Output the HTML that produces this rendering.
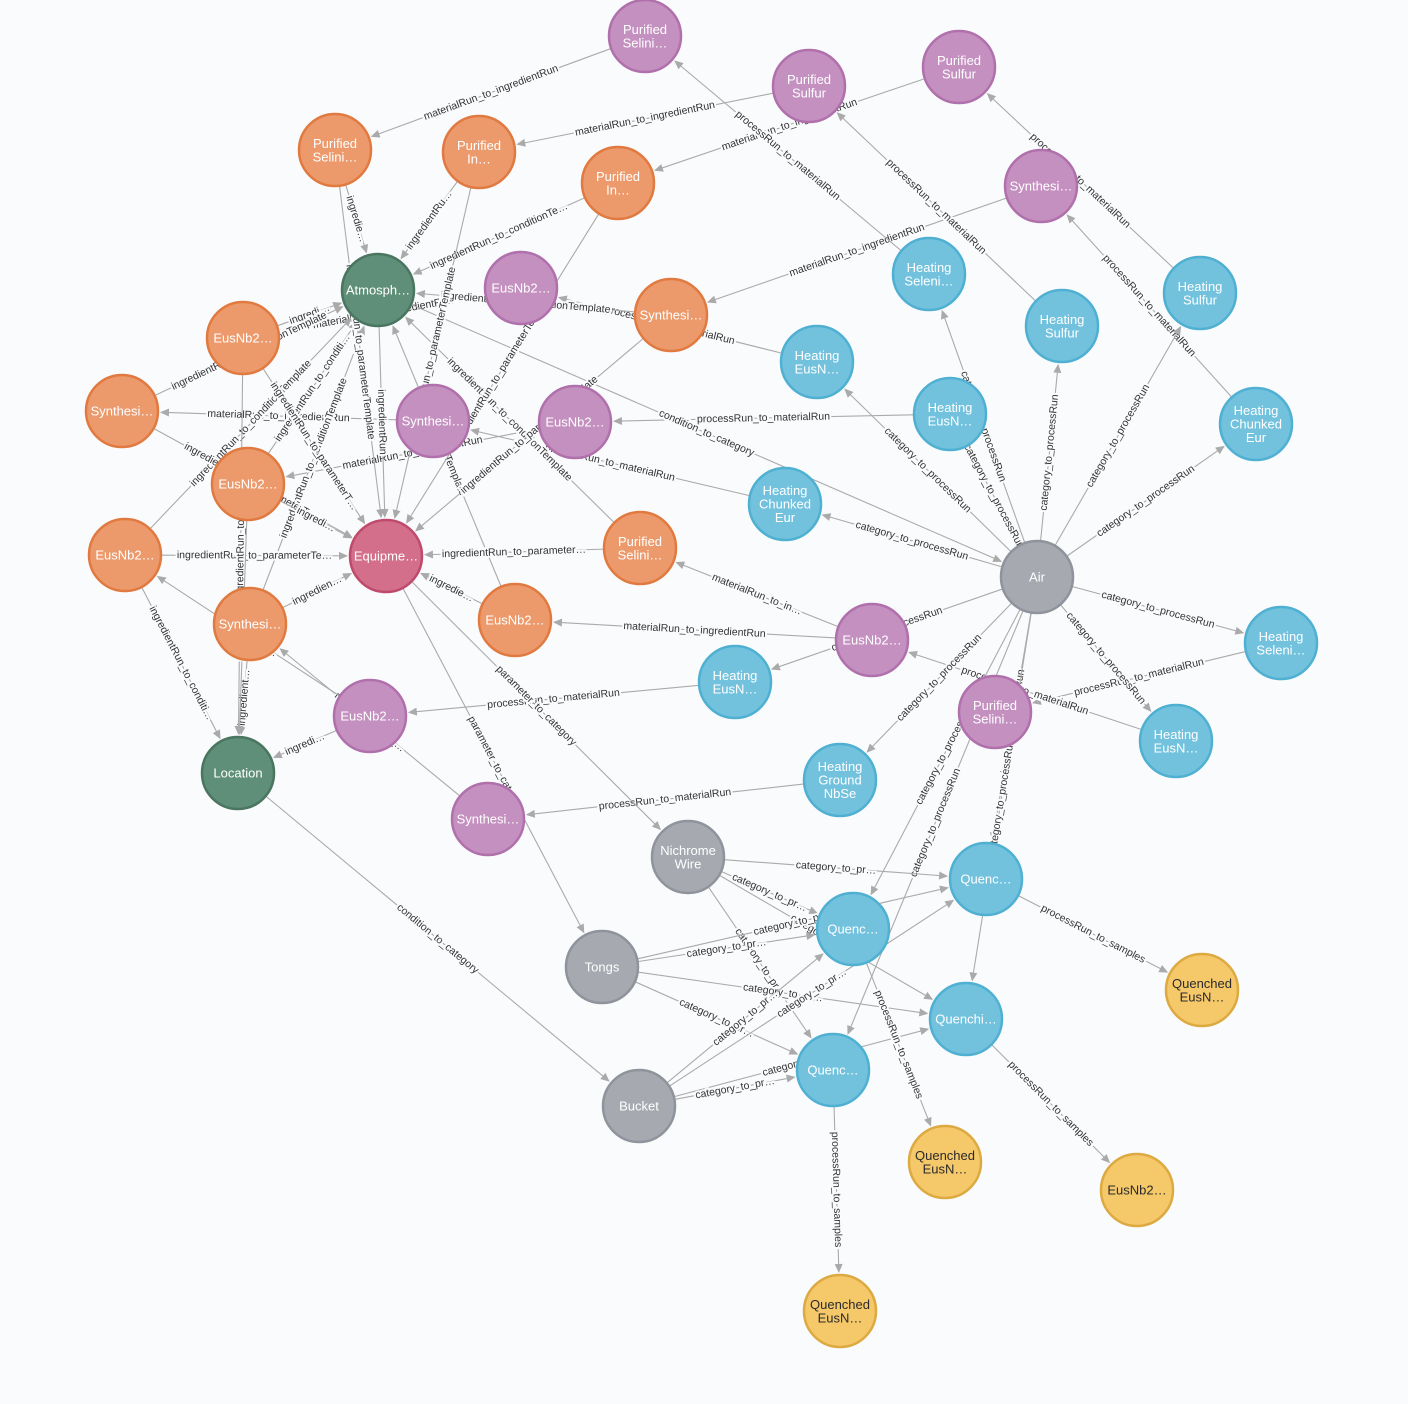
<!DOCTYPE html>
<html><head><meta charset="utf-8">
<style>
html,body{margin:0;padding:0;background:#fafbfd;}
svg{display:block;font-family:"Liberation Sans",sans-serif;}
</style></head>
<body>
<svg id="g" width="1408" height="1404" viewBox="0 0 1408 1404" xmlns="http://www.w3.org/2000/svg"></svg>
<script>
const C={p:["#c490c0","#b070ac"],o:["#ec9a6c","#e07a40"],g:["#5f8f78","#4a7560"],r:["#d36f8a","#c04a6c"],a:["#a6a9b0","#8f939b"],b:["#72c2de","#4fb0d2"],y:["#f5c86a","#dcaa40"]};
const N={
ps1:[645,36,"p",["Purified","Selini…"]],
psu1:[809,86,"p",["Purified","Sulfur"]],
psu2:[959,67,"p",["Purified","Sulfur"]],
sy1:[1041,186,"p",["Synthesi…"]],
e1:[521,288,"p",["EusNb2…"]],
sy2:[433,421,"p",["Synthesi…"]],
e2:[575,422,"p",["EusNb2…"]],
e3:[872,640,"p",["EusNb2…"]],
ps2:[995,712,"p",["Purified","Selini…"]],
e4:[370,716,"p",["EusNb2…"]],
sy3:[488,819,"p",["Synthesi…"]],
ops1:[335,150,"o",["Purified","Selini…"]],
oi1:[479,152,"o",["Purified","In…"]],
oi2:[618,183,"o",["Purified","In…"]],
oe1:[243,338,"o",["EusNb2…"]],
osy1:[671,315,"o",["Synthesi…"]],
osy2:[122,411,"o",["Synthesi…"]],
oe2:[248,484,"o",["EusNb2…"]],
oe3:[125,555,"o",["EusNb2…"]],
ops2:[640,548,"o",["Purified","Selini…"]],
oe4:[515,620,"o",["EusNb2…"]],
osy3:[250,624,"o",["Synthesi…"]],
atm:[378,290,"g",["Atmosph…"]],
loc:[238,773,"g",["Location"]],
eq:[386,556,"r",["Equipme…"]],
air:[1037,577,"a",["Air"]],
nw:[688,857,"a",["Nichrome","Wire"]],
tg:[602,967,"a",["Tongs"]],
bk:[639,1106,"a",["Bucket"]],
hs1:[929,274,"b",["Heating","Seleni…"]],
hsu1:[1062,326,"b",["Heating","Sulfur"]],
hsu2:[1200,293,"b",["Heating","Sulfur"]],
he1:[817,362,"b",["Heating","EusN…"]],
he2:[950,414,"b",["Heating","EusN…"]],
hc1:[1256,424,"b",["Heating","Chunked","Eur"]],
hc2:[785,504,"b",["Heating","Chunked","Eur"]],
hs2:[1281,643,"b",["Heating","Seleni…"]],
he3:[735,682,"b",["Heating","EusN…"]],
he4:[1176,741,"b",["Heating","EusN…"]],
hg:[840,780,"b",["Heating","Ground","NbSe"]],
q1:[986,879,"b",["Quenc…"]],
q2:[853,929,"b",["Quenc…"]],
q3:[966,1019,"b",["Quenchi…"]],
q4:[833,1070,"b",["Quenc…"]],
y1:[1202,990,"y",["Quenched","EusN…"]],
y2:[945,1162,"y",["Quenched","EusN…"]],
y3:[1137,1190,"y",["EusNb2…"]],
y4:[840,1311,"y",["Quenched","EusN…"]]
};
const E=[];
function e(a,b,l){E.push([a,b,l]);}
const MI="materialRun_to_ingredientRun",PM="processRun_to_materialRun",CP="category_to_processRun",PS="processRun_to_samples";
e("ps1","ops1",MI);e("psu1","oi1",MI);e("psu2","oi2",MI);e("sy1","osy1",MI);
e("e3","oe4",MI);e("sy2","osy2",MI);e("e2","oe2",MI);e("e1","oe1","materialRun_to_ingredientRun");
e("e3","ops2","materialRun_to_in…");e("sy3","osy3","materialRun_to_…");e("e4","oe3","materialRun…");
e("hs1","ps1",PM);e("hsu1","psu1",PM);e("hsu2","psu2",PM);e("hc1","sy1",PM);
e("he2","e2",PM);e("he1","e1","processRun_to_materialRun");e("hc2","sy2",PM);e("he3","e4",PM);
e("hg","sy3",PM);e("hs2","ps2",PM);e("he4","e3",PM);
["hs1","hsu1","hsu2","he1","he2","hc1","hc2","hs2","he3","he4","hg","q1","q2","q3","q4"].forEach(t=>e("air",t,CP));
["nw","tg","bk"].forEach(s=>["q1","q2","q3","q4"].forEach(t=>e(s,t,"category_to_pr…")));
e("q1","y1",PS);e("q2","y2",PS);e("q3","y3",PS);e("q4","y4",PS);
e("atm","air","condition_to_category");e("loc","bk","condition_to_category");
e("eq","nw","parameter_to_category");e("eq","tg","parameter_to_cate…");
e("ops1","atm","ingredie…");e("oi1","atm","ingredientRu…");e("oi2","atm","ingredientRun_to_conditionTe…");
e("oe1","atm","ingredi…");e("osy1","atm","ingredientRun_to_conditionTemplate");e("osy2","atm","ingredientRun_to_conditionTemplate");
e("oe2","atm","ingredientRun_to_conditi…");e("oe3","atm","ingredientRun_to_conditionTemplate");e("ops2","atm","ingredientRun_to_conditionTemplate");
e("oe4","atm","conditionTemplate");e("osy3","atm","ingredientRun_to_conditionTemplate");
e("ops1","eq","ingredientRun_to_parameterTemplate");e("oi1","eq","ingredientRun_to_parameterTemplate");e("oi2","eq","ingredientRun_to_parameterTemplate");
e("oe1","eq","ingredientRun_to_parameterT…");e("osy1","eq","ingredientRun_to_parameterTemplate");e("osy2","eq","ingredientRun_to_parameterTe…");
e("oe2","eq","ingredi…");e("oe3","eq","ingredientRun_to_parameterTe…");e("ops2","eq","ingredientRun_to_parameter…");
e("oe4","eq","ingredie…");e("osy3","eq","ingredien…");
e("oe3","loc","ingredientRun_to_conditi…");e("osy3","loc","ingredient…");e("oe1","loc","ingredientRun_to…");e("oe2","loc","ingredientRun");
e("e4","loc","ingredi…");e("atm","eq","ingredientRun");
const svg=document.getElementById("g");let s="";
const R=36;
E.forEach(([a,b,l])=>{
 const A=N[a],B=N[b];const dx=B[0]-A[0],dy=B[1]-A[1],d=Math.hypot(dx,dy),ux=dx/d,uy=dy/d;
 const x1=A[0]+ux*R,y1=A[1]+uy*R,x2=B[0]-ux*(R+2),y2=B[1]-uy*(R+2);
 s+=`<line x1="${x1}" y1="${y1}" x2="${x2-ux*6}" y2="${y2-uy*6}" stroke="#aaaaaa" stroke-width="1.1"/>`;
 const px=-uy,py=ux;
 s+=`<polygon points="${x2},${y2} ${x2-ux*9+px*4},${y2-uy*9+py*4} ${x2-ux*9-px*4},${y2-uy*9-py*4}" fill="#aaaaaa"/>`;
 let ang=Math.atan2(dy,dx)*180/Math.PI;if(ang>90)ang-=180;if(ang<-90)ang+=180;
 const mx=(x1+x2)/2,my=(y1+y2)/2;
 s+=`<text x="${mx}" y="${my}" transform="rotate(${ang} ${mx} ${my})" text-anchor="middle" dominant-baseline="central" font-size="10.5" fill="#333" stroke="#fafbfd" stroke-width="4" paint-order="stroke">${l}</text>`;
});
for(const k in N){const [x,y,c,t]=N[k];
 s+=`<circle cx="${x}" cy="${y}" r="${R}" fill="${C[c][0]}" stroke="${C[c][1]}" stroke-width="2.5"/>`;
 const fc=c=="y"?"#2a2a2a":"#fff";const n=t.length;
 t.forEach((w,i)=>{s+=`<text x="${x}" y="${y+(i-(n-1)/2)*13.5}" text-anchor="middle" dominant-baseline="central" font-size="13" fill="${fc}">${w}</text>`;});
}
svg.innerHTML=s;
</script>
</body></html>
